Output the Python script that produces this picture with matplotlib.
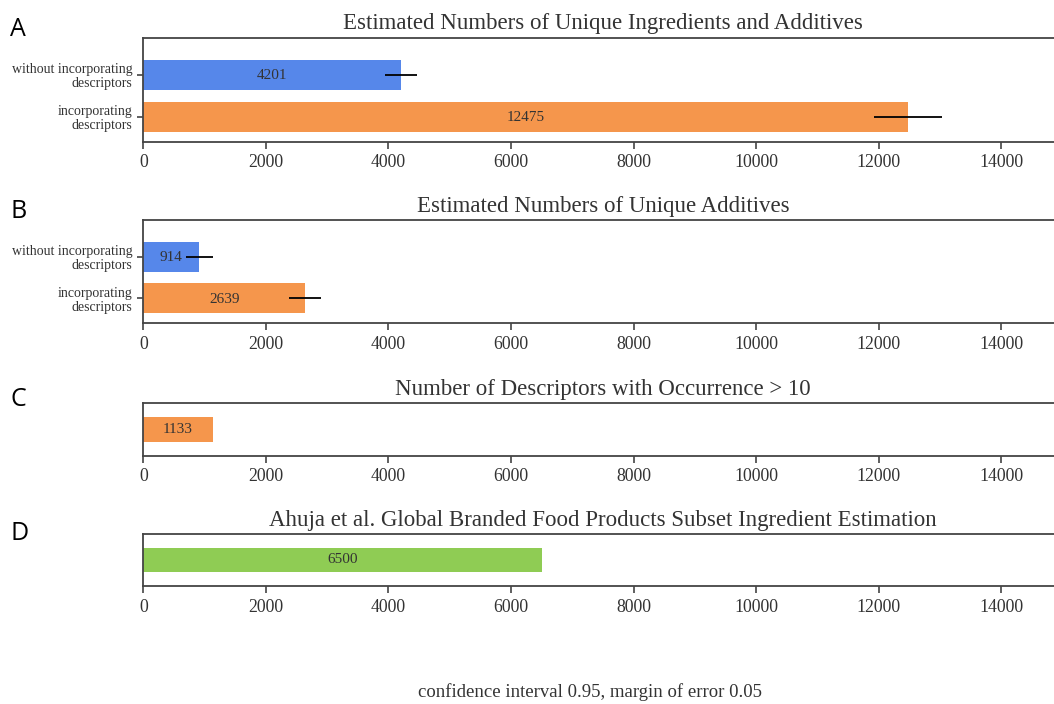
import matplotlib
matplotlib.use("Agg")
import matplotlib.pyplot as plt

# data
cats_ab = ["without incorporating\ndescriptors", "incorporating\ndescriptors"]
vals_a = [4201, 12475]
err_a = [258, 552]
vals_b = [914, 2639]
err_b = [215, 259]
val_c = [1133]
val_d = [6500]

titles = ["Estimated Numbers of Unique Ingredients and Additives",
          "Estimated Numbers of Unique Additives",
          "Number of Descriptors with Occurrence > 10",
          "Ahuja et al. Global Branded Food Products Subset Ingredient Estimation"]
letters = ["A", "B", "C", "D"]
caption = "confidence interval 0.95, margin of error 0.05"

BLUE, ORANGE, GREEN = "#5687ea", "#f5964c", "#8fcc54"
TXT = "#333333"
SERIF = "Liberation Serif"

plt.rcParams.update({"font.family": SERIF, "text.color": TXT,
                     "axes.edgecolor": "#444444", "axes.linewidth": 1.3,
                     "xtick.color": "#444444", "ytick.color": "#444444",
                     "xtick.labelcolor": TXT, "ytick.labelcolor": TXT})

fig = plt.figure(figsize=(10.54, 7.04), dpi=100)
L, W = 0.136, 0.8721
boxes = [(0.7987, 0.1477), (0.5408, 0.1467), (0.3523, 0.0749), (0.1676, 0.0739)]
axes = [fig.add_axes([L, b, W, h]) for b, h in boxes]
letter_y = [29, 212, 399, 533]  # pixel rows of the panel letters

def style(ax, title):
    ax.set_xlim(0, 15000)
    ax.set_xticks(range(0, 15000, 2000))
    ax.tick_params(axis="x", labelsize=12.8, length=5, width=1.2, pad=4)
    ax.tick_params(axis="y", labelsize=10, length=4, width=1.2, pad=4)
    ax.set_title(title, fontsize=16.5, color=TXT, pad=6)

# A and B: two bars with error bars
for ax, vals, errs in [(axes[0], vals_a, err_a), (axes[1], vals_b, err_b)]:
    ypos = range(len(vals))
    ax.barh(ypos, vals, height=0.72, color=[BLUE, ORANGE])
    ax.errorbar(vals, ypos, xerr=errs, fmt="none", ecolor="black", elinewidth=1.3)
    for y, v in zip(ypos, vals):
        ax.text(v / 2, y + 0.02, str(v), ha="center", va="center", fontsize=11, color=TXT)
    ax.set_yticks(list(ypos))
    ax.set_yticklabels(cats_ab, linespacing=1.1)
    ax.set_ylim(1.60, -0.885)

# C and D: single bar
for ax, vals, col in [(axes[2], val_c, ORANGE), (axes[3], val_d, GREEN)]:
    ax.barh([0], vals, height=0.72, color=col)
    ax.text(vals[0] / 2, 0, str(vals[0]), ha="center", va="center", fontsize=11, color=TXT)
    ax.set_yticks([])
    ax.set_ylim(0.77, -0.77)

for ax, t in zip(axes, titles):
    style(ax, t)

for lt, yp in zip(letters, letter_y):
    fig.text(0.0095, 1 - yp / 704, lt, fontsize=18, family="Open Sans",
             color="black", ha="left", va="center")

fig.text(590 / 1054, 1 - 692 / 704, caption, ha="center", va="center",
         fontsize=13.5, color=TXT)

fig.savefig("out.png", dpi=100)
